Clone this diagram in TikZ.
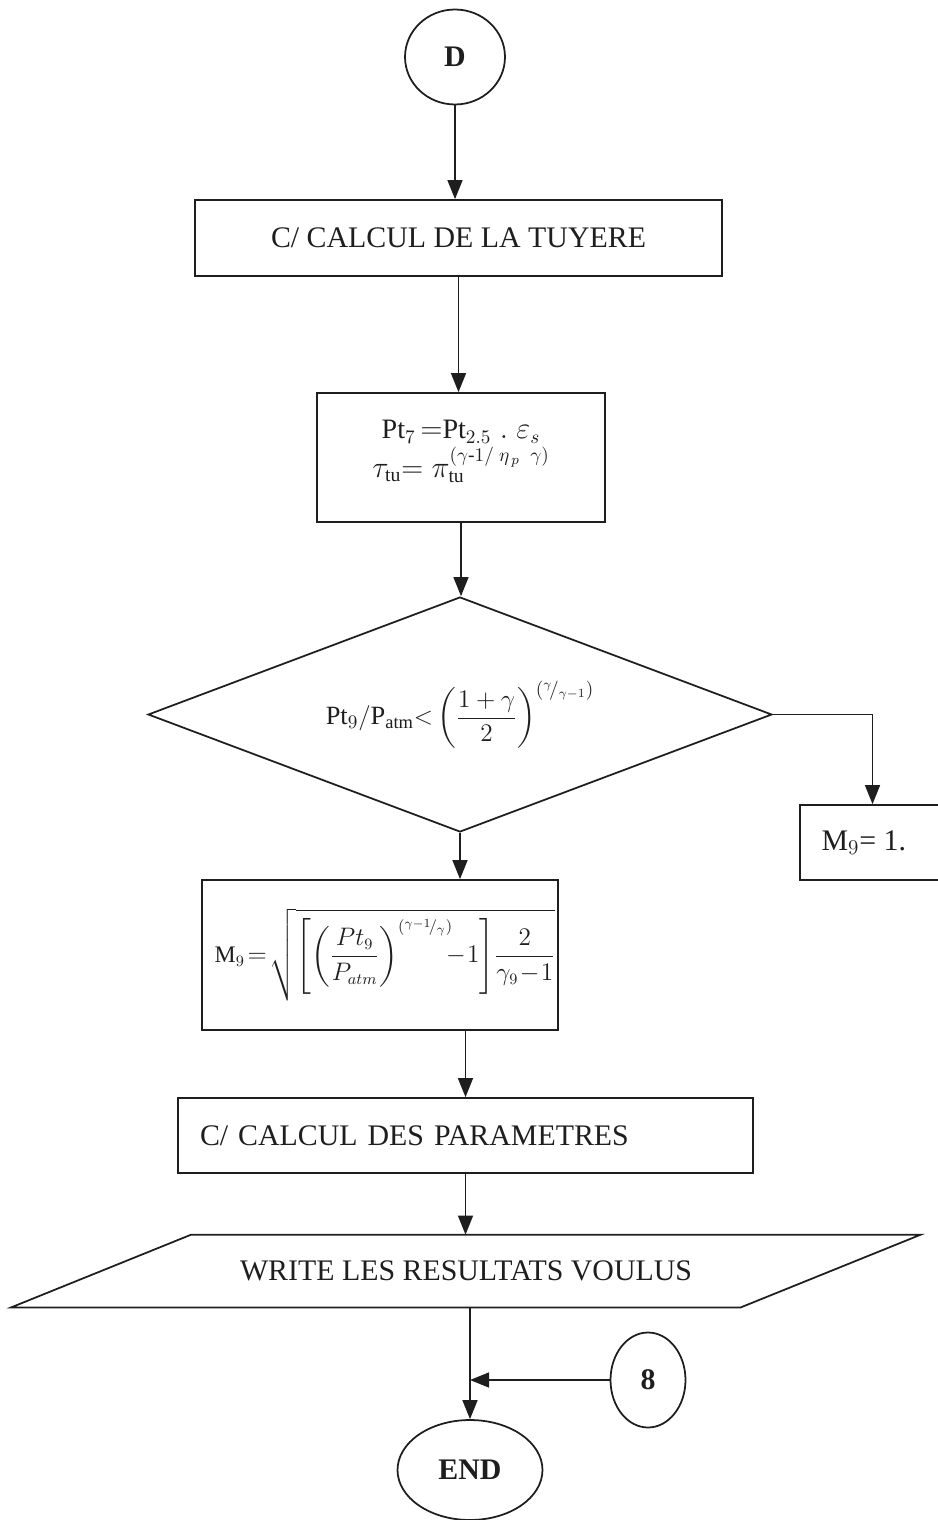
\documentclass[tikz,border=0pt]{standalone}
\usepackage{fontspec}
\setmainfont{Liberation Serif}
\usepackage{amsmath}
\usetikzlibrary{arrows.meta,calc,shapes.geometric}
\definecolor{ink}{HTML}{1E1E1E}
\tikzset{
  box/.style={
    draw=ink,
    line width=1pt,
    rectangle,
    inner sep=0pt,
    align=center,
    text=ink,
    font=\fontsize{17}{20}\selectfont
  },
  connector/.style={
    draw=ink,
    ellipse,
    line width=1pt,
    inner sep=0pt,
    text=ink,
    font=\bfseries\fontsize{17}{20}\selectfont
  },
  test/.style={
    box,
    diamond,
    shape aspect=2.65,
    minimum width=12.48cm,
    minimum height=4.7cm,
    font=\fontsize{15}{18}\selectfont
  },
  io/.style={
    box,
    draw=none,
    minimum width=18.16cm,
    minimum height=1.42cm
  },
  flow/.style={
    -{Triangle[length=3.8mm,width=3mm]},
    draw=ink,
    line width=0.8pt
  }
}

\begin{document}
\begin{tikzpicture}[x=0.02cm,y=-0.02cm]
  \useasboundingbox (0,0) rectangle (937,1520);

  \node[connector, minimum width=2cm, minimum height=1.9cm] (d) at (455,57) {D};
  \node[box, minimum width=10.54cm, minimum height=1.52cm] (tuyere) at (458.5,238)
    {C/ CALCUL DE LA TUYERE};
  \node[box, minimum width=5.76cm, minimum height=2.58cm, font=\fontsize{16}{22}\selectfont] (pressure) at (461,457.5)
    {$\mathrm{Pt}_7\,{=}\mathrm{Pt}_{2.5}\;.\;\varepsilon_s$\\
     $\tau_{\mathrm{tu}}{=}\;\pi_{\mathrm{tu}}^{(\gamma\text{-}1/\;\eta_{\,p}\;\;\gamma)}$\\[-12pt]};
  \node[test] (cond) at (460,714.5)
    {$\mathrm{Pt}_9/\mathrm{P}_{\mathrm{atm}}{<}\left(\dfrac{1+\gamma}{2}\right)^{\left({}^{\gamma}\!/_{\gamma-1}\right)}$};
  \node[box, minimum width=2.9cm, minimum height=1.5cm] (mone) at (872.5,842.5)
    {$\mathrm{M}_9$= 1.\hspace*{0.35cm}};
  \node[box, minimum width=7.12cm, minimum height=3cm, font=\fontsize{13.5}{16}\selectfont] (mach) at (380,955)
    {\hspace*{0.2cm}$\medmuskip=1mu \thickmuskip=2mu
     \mathrm{M}_9=\sqrt{\left[\left(\dfrac{Pt_9}{P_{atm}}\right)^{\left({}^{\gamma-1}\!/_{\gamma}\right)}\!\!-1\right]\!\dfrac{2}{\gamma_9-1}}$};
  \node[box, minimum height=1.5cm, text width=10.62cm, inner xsep=0.44cm, align=left] (params) at (465.5,1135.5)
    {C/ CALCUL DES PARAMETRES};
  \node[io] (write) at (466,1271) {WRITE LES RESULTATS VOULUS};
  \draw[ink, line width=1pt] ($(write.north west)+(180,0)$) -- (write.north east)
    -- ($(write.south east)+(-180,0)$) -- (write.south west) -- cycle;
  \node[connector, minimum width=1.5cm, minimum height=1.9cm] (eight) at (648,1380) {8};
  \node[connector, minimum width=2.9cm, minimum height=2cm] (finish) at (470,1470) {END};

  \draw[flow] (d.south) -- (d.south |- tuyere.north);
  \draw[flow] (tuyere.south) -- (tuyere.south |- pressure.north);
  \draw[flow] (pressure.south) -- (pressure.south |- cond.north);
  \draw[flow] (cond.east) -| (mone.north);
  \draw[flow] (cond.south) -- (cond.south |- mach.north);
  \draw[flow] (params.north |- mach.south) -- (params.north);
  \draw[flow] (params.south) -- (params.south |- write.north);
  \draw[flow] (finish.north |- write.south) -- (finish.north);
  \draw[flow] (eight.west) -- (eight.west -| finish.north);
\end{tikzpicture}
\end{document}
